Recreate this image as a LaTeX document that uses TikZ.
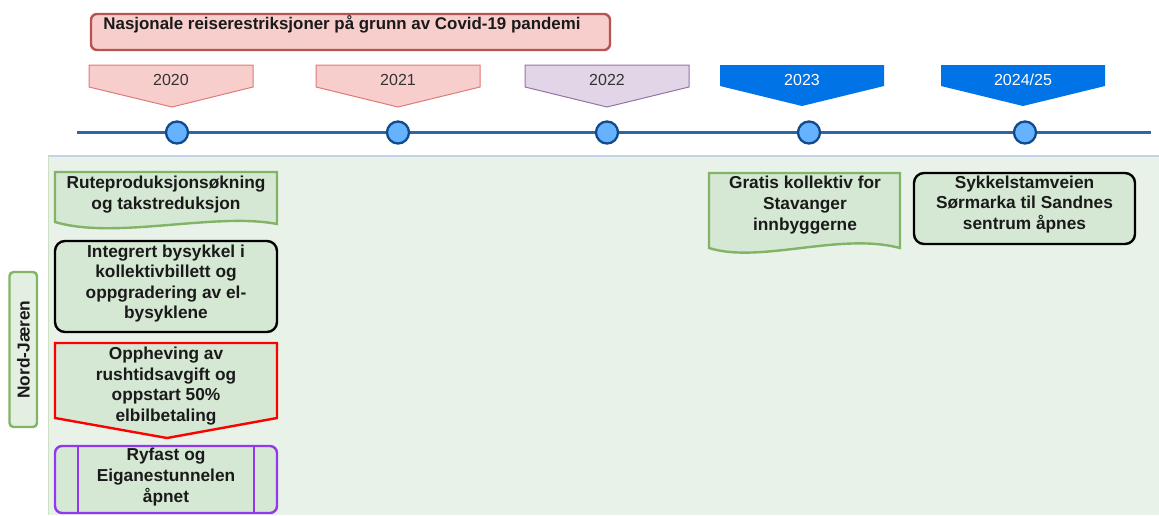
\documentclass[tikz,border=0pt]{standalone}
\usepackage{fontspec}
\setmainfont{Liberation Sans}
\definecolor{pinkfill}{HTML}{F8CECC}
\definecolor{pinkdark}{HTML}{B85450}
\definecolor{pinkline}{HTML}{E07A76}
\definecolor{purfill}{HTML}{E1D5E7}
\definecolor{purline}{HTML}{9673A6}
\definecolor{bluebox}{HTML}{0073E6}
\definecolor{tline}{HTML}{2F64A6}
\definecolor{dotfill}{HTML}{66B2FF}
\definecolor{dotline}{HTML}{0F4C8C}
\definecolor{lanefill}{HTML}{E9F2E8}
\definecolor{lanetop}{HTML}{C3D2E8}
\definecolor{gfill}{HTML}{D5E8D4}
\definecolor{gline}{HTML}{82B366}
\definecolor{violet2}{HTML}{9138F0}
\definecolor{txt}{HTML}{1A1A1A}
\definecolor{ytxt}{HTML}{333333}
\tikzset{
  bigtxt/.style={font=\fontsize{17.3}{20.6}\selectfont\bfseries, text=txt, align=center, inner sep=0pt},
  yeartxt/.style={font=\fontsize{16}{19}\selectfont, text=ytxt, inner sep=0pt},
  docbox/.style={draw=gline, fill=gfill, line width=2.4pt},
  blkbox/.style={draw=black, fill=gfill, line width=2.4pt, rounded corners=10pt},
  dot/.style={circle, draw=dotline, fill=dotfill, line width=2.3pt, minimum size=22pt, inner sep=0pt}
}
\begin{document}
\begin{tikzpicture}[x=1pt,y=-1pt]
\useasboundingbox (0,0) rectangle (1159,515);
\fill[white] (0,0) rectangle (1159,515);
% swimlane
\fill[lanefill] (48,156) rectangle (1159,515);
\draw[lanetop, line width=1.8pt] (48,156) -- (1159,156);
\draw[gline!40, line width=1pt] (48,156) -- (48,515);
% title
\draw[draw=pinkdark, fill=pinkfill, line width=2.4pt, rounded corners=6pt] (91,14) rectangle (610,50);
\node[font=\fontsize{16.9}{20}\selectfont\bfseries, text=txt, inner sep=0pt] (title) at (342,24) {Nasjonale reiserestriksjoner på grunn av Covid-19 pandemi};
% year pentagons
\draw[draw=pinkline, fill=pinkfill, line width=1pt] (89,65) -- (253,65) -- (253,87) -- (172,107) -- (89,87) -- cycle;
\node[yeartxt] (y2020) at (171,80) {2020};
\draw[draw=pinkline, fill=pinkfill, line width=1pt] (316,65) -- (480,65) -- (480,87) -- (398,107) -- (316,87) -- cycle;
\node[yeartxt] (y2021) at (398,80) {2021};
\draw[draw=purline, fill=purfill, line width=1pt] (525,65) -- (689,65) -- (689,87) -- (607,107) -- (525,87) -- cycle;
\node[yeartxt] (y2022) at (607,80) {2022};
\fill[bluebox] (720,65) -- (884,65) -- (884,86) -- (802,106) -- (720,86) -- cycle;
\node[yeartxt, text=white] (y2023) at (802,80) {2023};
\fill[bluebox] (941,65) -- (1105,65) -- (1105,86) -- (1023,106) -- (941,86) -- cycle;
\node[yeartxt, text=white] (y2024) at (1023,80) {2024/25};
% timeline
\coordinate (tl0) at (77,132.5);
\coordinate (tl1) at (1151,132.5);
\draw[tline, line width=2.2pt] (tl0) -- (tl1);
\node[dot] (d1) at (177,132.5) {};
\node[dot] (d2) at (398,132.5) {};
\node[dot] (d3) at (607,132.5) {};
\node[dot] (d4) at (809,132.5) {};
\node[dot] (d5) at (1025,132.5) {};
% lane label
\draw[draw=gline, fill=gfill!70!white, line width=2.4pt, rounded corners=4pt] (9.5,272) rectangle (37,427);
\node[bigtxt, rotate=90] (lane) at (23.5,349.5) {Nord-Jæren};
% box 1 document
\draw[docbox] (55,172) -- (277,172) -- (277,224) .. controls (215,212) and (115,240) .. (55,222) -- cycle;
\node[bigtxt] (b1) at (166,194.5) {Ruteproduksjonsøkning\\og takstreduksjon};
% box 2
\draw[blkbox] (55,241) rectangle (277,332);
\node[bigtxt] (b2) at (166,283.5) {Integrert bysykkel i\\kollektivbillett og\\oppgradering av el-\\bysyklene};
% box 3 offpage
\draw[draw=red, fill=gfill, line width=2.4pt] (55,343) -- (277,343) -- (277,418) -- (167,438) -- (55,418) -- cycle;
\node[bigtxt] (b3) at (166,386) {Oppheving av\\rushtidsavgift og\\oppstart 50\%\\elbilbetaling};
% box 4 process
\draw[draw=violet2, fill=gfill, line width=2.4pt, rounded corners=7pt] (55,446) rectangle (277,513);
\draw[draw=violet2, line width=2.4pt] (78,446) -- (78,513);
\draw[draw=violet2, line width=2.4pt] (254,446) -- (254,513);
\node[bigtxt] (b4) at (166,477) {Ryfast og\\Eiganestunnelen\\åpnet};
% box 5 document
\draw[docbox] (709,173) -- (900,173) -- (900,248) .. controls (840,232) and (760,264) .. (709,248) -- cycle;
\node[bigtxt] (b5) at (805,205) {Gratis kollektiv for\\Stavanger\\innbyggerne};
% box 6
\draw[blkbox] (914,173) rectangle (1135,244);
\node[bigtxt] (b6) at (1024.5,204.5) {Sykkelstamveien\\Sørmarka til Sandnes\\sentrum åpnes};
\end{tikzpicture}
\end{document}
